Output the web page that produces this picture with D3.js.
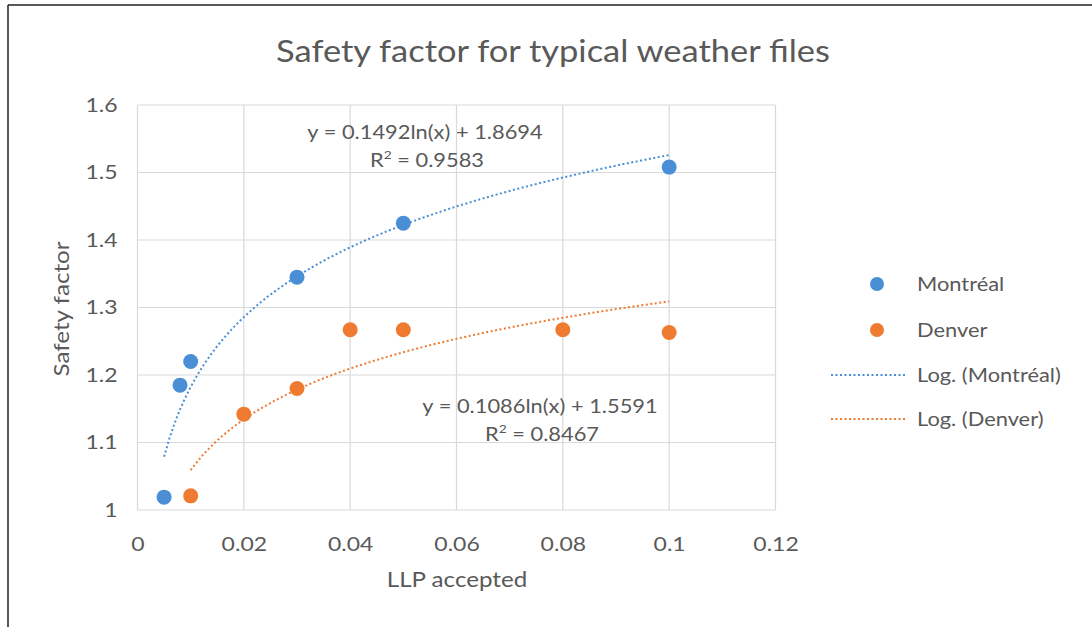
<!DOCTYPE html>
<html><head><meta charset="utf-8">
<script src="https://cdn.jsdelivr.net/npm/d3@7"></script>
<style>body{margin:0;background:#fff;} text{font-family:Lato, "Open Sans", sans-serif;}</style>
</head><body>
<svg id="chart" width="1092" height="627"></svg>
<script>
const title = "Safety factor for typical weather files";
const xTicks = [0, 0.02, 0.04, 0.06, 0.08, 0.1, 0.12];
const yTicks = [1, 1.1, 1.2, 1.3, 1.4, 1.5, 1.6];
const montrealX = [0.005, 0.008, 0.01, 0.03, 0.05, 0.1];
const montrealY = [1.019, 1.185, 1.22, 1.345, 1.425, 1.508];
const denverX = [0.01, 0.02, 0.03, 0.04, 0.05, 0.08, 0.1];
const denverY = [1.021, 1.142, 1.18, 1.267, 1.267, 1.267, 1.263];
const montrealFit = {a: 0.1492, b: 1.8694, r2: 0.9583};
const denverFit = {a: 0.1086, b: 1.5591, r2: 0.8467};
const seriesNames = ["Montréal", "Denver"];
const colors = ["#4a8fd6", "#ee7b30"];

const SX = 1.15;
const TXT = "#595959";
const svg = d3.select("#chart");
svg.append("rect").attr("x",0).attr("y",0).attr("width",1092).attr("height",627).attr("fill","#fff");
svg.append("line").attr("x1",8).attr("x2",1092).attr("y1",5).attr("y2",5).attr("stroke","#222").attr("stroke-width",1.5);
svg.append("line").attr("x1",8).attr("x2",8).attr("y1",5).attr("y2",627).attr("stroke","#222").attr("stroke-width",1.5);

function label(x0, y0, size, anchor, str, rot){
  return svg.append("text")
    .attr("transform", `translate(${x0},${y0})${rot ? " rotate("+rot+")" : ""} scale(${SX},1)`)
    .attr("text-anchor", anchor).attr("font-size", size).attr("fill", TXT).text(str);
}

const x = d3.scaleLinear().domain([0, 0.12]).range([137.5, 775.5]);
const y = d3.scaleLinear().domain([1, 1.6]).range([510, 105]);

const g = svg.append("g");
g.selectAll("line.vg").data(xTicks).join("line").attr("class","vg")
  .attr("x1",d=>x(d)).attr("x2",d=>x(d)).attr("y1",y(1.6)).attr("y2",y(1))
  .attr("stroke","#d9d9d9").attr("stroke-width",1.2);
g.selectAll("line.hg").data(yTicks).join("line").attr("class","hg")
  .attr("x1",x(0)).attr("x2",x(0.12)).attr("y1",d=>y(d)).attr("y2",d=>y(d))
  .attr("stroke","#d9d9d9").attr("stroke-width",1.2);

const xAxis = d3.axisBottom(x).tickValues(xTicks).tickSize(0).tickPadding(27).tickFormat(d=>String(+d.toFixed(2)));
const xa = svg.append("g").attr("transform",`translate(0,${y(1)})`).call(xAxis);
xa.select(".domain").remove();
xa.selectAll("text").attr("font-size",20).attr("fill",TXT).style("font-family","Lato, sans-serif")
  .attr("transform",`scale(${SX},1)`);
const yPad = 20;
const yAxis = d3.axisLeft(y).tickValues(yTicks).tickSize(0).tickPadding(yPad).tickFormat(d=>String(+d.toFixed(1)));
const ya = svg.append("g").attr("transform",`translate(${x(0)},0)`).call(yAxis);
ya.select(".domain").remove();
ya.selectAll("text").attr("font-size",20).attr("fill",TXT).style("font-family","Lato, sans-serif")
  .attr("x", -yPad/SX).attr("transform",`scale(${SX},1)`);

label(553, 62, 30, "middle", title);
label(457, 587, 21, "middle", "LLP accepted");
label(69, 309, 21, "middle", "Safety factor", -90);

function fitLine(xs, fit){
  const lo = d3.min(xs), hi = d3.max(xs);
  return d3.range(0,101).map(i=>{const xv = lo + (hi-lo)*i/100; return [xv, fit.a*Math.log(xv)+fit.b];});
}
const line = d3.line().x(d=>x(d[0])).y(d=>y(d[1]));
[[montrealX, montrealFit, colors[0]],[denverX, denverFit, colors[1]]].forEach(([xs,fit,c])=>{
  svg.append("path").attr("d", line(fitLine(xs,fit))).attr("fill","none").attr("stroke",c)
    .attr("stroke-width",2).attr("stroke-dasharray","2,2.5");
});

const mData = montrealX.map((v,i)=>({x:v,y:montrealY[i]}));
const dData = denverX.map((v,i)=>({x:v,y:denverY[i]}));
svg.append("g").selectAll("circle").data(mData).join("circle").attr("cx",d=>x(d.x)).attr("cy",d=>y(d.y)).attr("r",7.5).attr("fill",colors[0]);
svg.append("g").selectAll("circle").data(dData).join("circle").attr("cx",d=>x(d.x)).attr("cy",d=>y(d.y)).attr("r",7.5).attr("fill",colors[1]);

function eqLabel(cx, cy, fit){
  label(cx, cy, 19, "middle", `y = ${fit.a}ln(x) + ${fit.b}`);
  const r = label(cx+2, cy+28, 19, "middle", "");
  r.append("tspan").text("R");
  r.append("tspan").attr("font-size",12).attr("dy",-8).text("2");
  r.append("tspan").attr("dy",8).text(` = ${fit.r2}`);
}
eqLabel(425, 139, montrealFit);
eqLabel(540, 413, denverFit);

const legY = [284, 330];
const legLY = [375, 419];
seriesNames.forEach((n,i)=>{
  svg.append("circle").attr("cx",877).attr("cy",legY[i]).attr("r",7).attr("fill",colors[i]);
  label(917, legY[i]+7, 19, "start", n);
});
seriesNames.forEach((n,i)=>{
  svg.append("line").attr("x1",831).attr("x2",905).attr("y1",legLY[i]).attr("y2",legLY[i]).attr("stroke",colors[i]).attr("stroke-width",2).attr("stroke-dasharray","2,2.5");
  label(917, legLY[i]+7, 19, "start", `Log. (${n})`);
});
</script>
</body></html>
